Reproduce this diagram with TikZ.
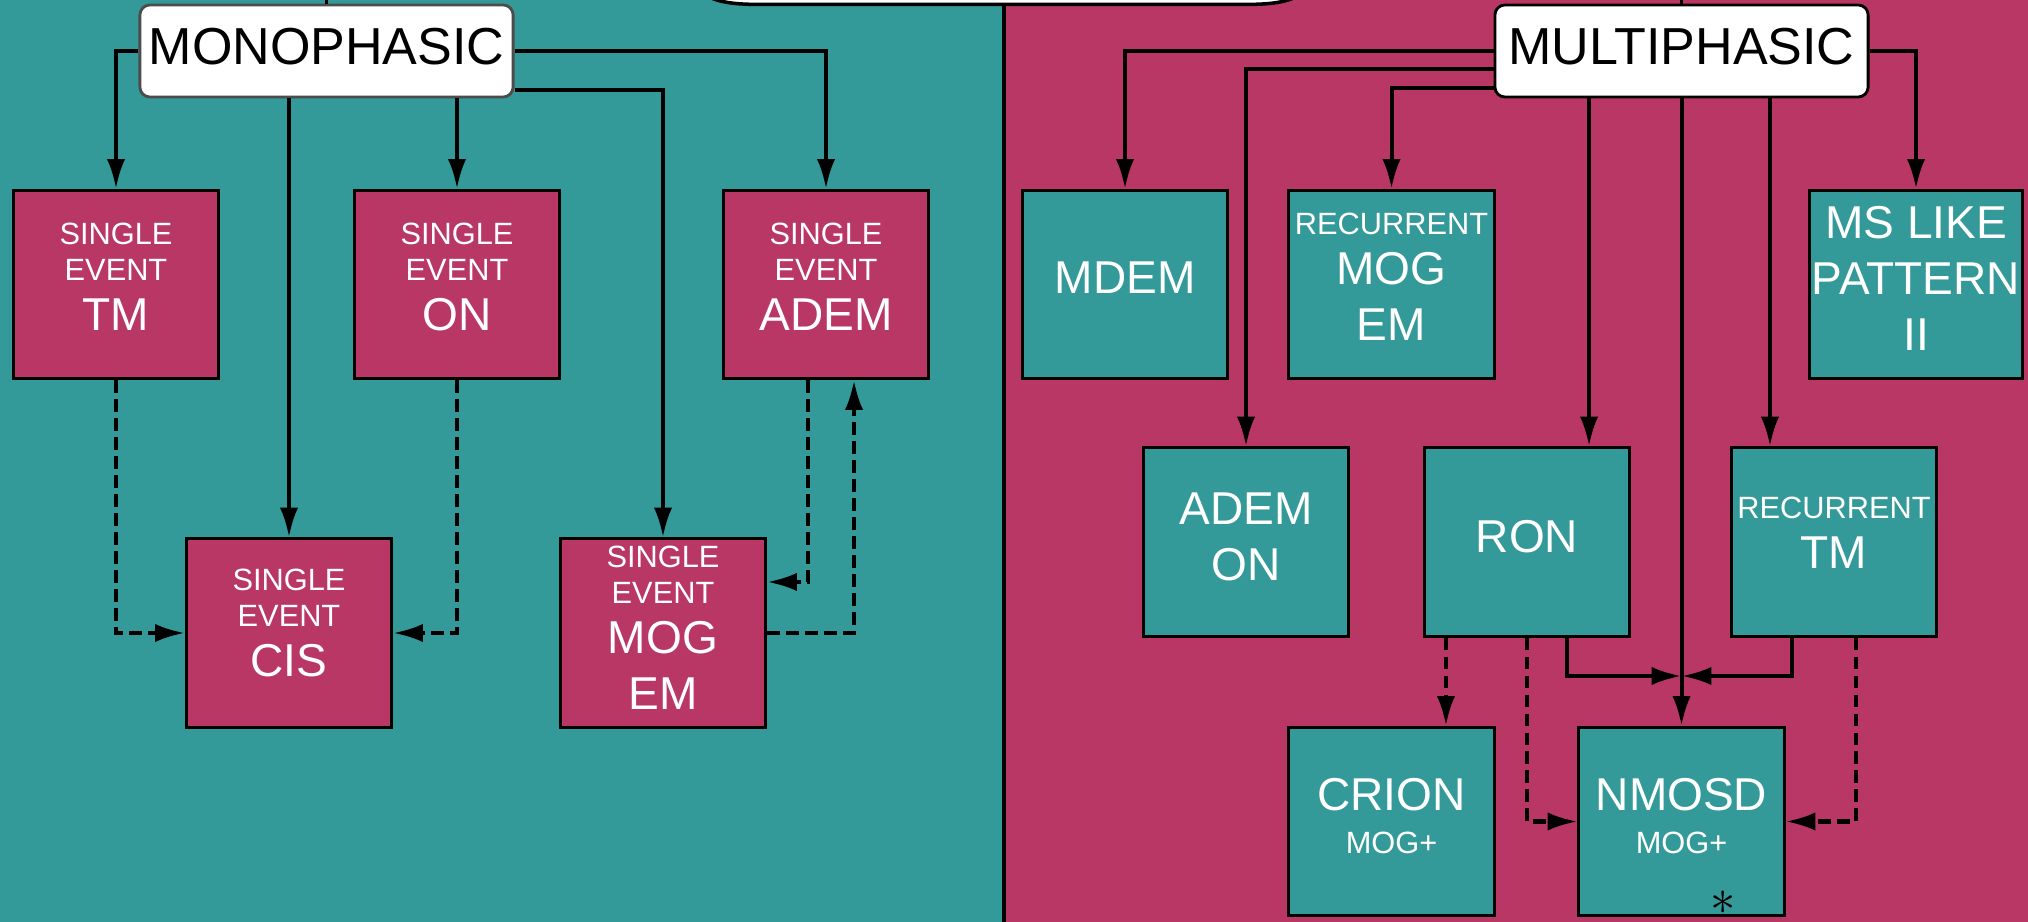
\documentclass[tikz,border=0pt]{standalone}
\usepackage{fontspec}
\setmainfont{Liberation Sans}
\usetikzlibrary{arrows.meta,calc}
\definecolor{teal1}{RGB}{51,153,153}
\definecolor{rose1}{RGB}{185,55,101}
\newcommand\sfnt{\fontsize{8.75}{10.25}\selectfont}
\newcommand\bfnt{\fontsize{13.1}{15}\selectfont}
\newcommand\lowr[1]{\rule[-#1]{0pt}{#1}}
\begin{document}
\begin{tikzpicture}[x=0.01cm,y=-0.01cm,
  box/.style={draw=black, line width=0.85pt, minimum width=2.05cm, minimum height=1.88cm, inner sep=0pt, align=center, text=white, font=\sfnt},
  monobox/.style={box, fill=rose1},
  multibox/.style={box, fill=teal1},
  headbox/.style={fill=white, rounded corners=0.1cm, minimum width=3.73cm, minimum height=0.92cm, inner sep=0pt, line width=0.8pt, font=\fontsize{14.8}{16}\selectfont},
  conn/.style={line width=1.15pt, -{Latex[length=8.5pt,width=5.2pt]}},
  dconn/.style={conn, dash pattern=on 3.6pt off 1.8pt},
]
\useasboundingbox (0,0) rectangle (2028,922);
\clip (0,0) rectangle (2028,922);
% backgrounds
\fill[teal1] (0,0) rectangle (1004,922);
\fill[rose1] (1004,0) rectangle (2028,922);
\draw[line width=0.9pt] (1004,0) -- (1004,922);
% partial top shape
\draw[fill=white, line width=1pt] (705,-5) .. controls (720,3) and (735,4.5) .. (765,4.5) -- (1240,4.5) .. controls (1270,4.5) and (1285,3) .. (1300,-5) -- cycle;

% heads
\node[headbox, draw=black!70] (MONO) at (326.5,51) {MONOPHASIC\lowr{0.1cm}};
\node[headbox, draw=black] (MULTI) at (1681.5,51) {MULTIPHASIC\lowr{0.1cm}};
\coordinate (t1) at (326.5,0);
\coordinate (t2) at (1681.5,0);
\draw[line width=1pt] (t1) -- (MONO.north);
\draw[line width=1pt] (t2) -- (MULTI.north);

% monophasic boxes
\node[monobox] (TM) at (116,284.5) {SINGLE\\EVENT\\[4pt]{\bfnt TM}\lowr{0.16cm}};
\node[monobox] (ON) at (457,284.5) {SINGLE\\EVENT\\[4pt]{\bfnt ON}\lowr{0.16cm}};
\node[monobox] (ADEM) at (826,284.5) {SINGLE\\EVENT\\[4pt]{\bfnt ADEM}\lowr{0.16cm}};
\node[monobox] (CIS) at (289,633) {SINGLE\\EVENT\\[4pt]{\bfnt CIS}\lowr{0.21cm}};
\node[monobox] (MOGEM) at (663,633) {SINGLE\\EVENT\\[4pt]{\bfnt MOG}\\[5.7pt]{\bfnt EM}\lowr{0.1cm}};

% multiphasic boxes
\node[multibox] (MDEM) at (1125,284.5) {{\bfnt MDEM}\lowr{0.13cm}};
\node[multibox] (RMOG) at (1391.5,284.5) {RECURRENT\\[4pt]{\bfnt MOG}\\[5.7pt]{\bfnt EM}\lowr{0.15cm}};
\node[multibox, minimum width=2.12cm] (MSL) at (1916,284.5) {{\bfnt MS LIKE}\\[5.7pt]{\bfnt PATTERN}\\[5.7pt]{\bfnt II}\lowr{0.12cm}};
\node[multibox] (ADEMON) at (1246,542) {{\bfnt ADEM}\\[5.7pt]{\bfnt ON}\lowr{0.1cm}};
\node[multibox] (RON) at (1527,542) {{\bfnt RON}\lowr{0.12cm}};
\node[multibox] (RTM) at (1834,542) {RECURRENT\\[4pt]{\bfnt TM}\lowr{0.19cm}};
\node[multibox] (CRION) at (1391.5,821.5) {{\bfnt CRION}\\[2pt]MOG+\lowr{0.12cm}};
\node[multibox] (NMOSD) at (1681.5,821.5) {{\bfnt NMOSD}\\[2pt]MOG+\lowr{0.12cm}};
\node[font=\fontsize{14}{16}\selectfont, inner sep=0pt, text=black] (ast) at (1723,903) {$\ast$};

% monophasic connectors
\draw[conn] (MONO.west) -| (TM.north);
\draw[conn] (CIS.north |- MONO.south) -- (CIS.north);
\draw[conn] (ON.north |- MONO.south) -- (ON.north);
\draw[conn] (MONO.east) -| (ADEM.north);
\draw[conn] ([yshift=0.08cm]MONO.south east) -| (MOGEM.north);
\draw[dconn] (TM.south) |- (CIS.west);
\draw[dconn] (ON.south) |- (CIS.east);
\draw[dconn] ([xshift=-0.18cm]ADEM.south) |- ([yshift=0.51cm]MOGEM.east);
\draw[dconn] (MOGEM.east) -| ([xshift=0.28cm]ADEM.south);

% multiphasic connectors
\draw[conn] (MULTI.west) -| (MDEM.north);
\draw[conn] ([yshift=-0.18cm]MULTI.west) -| (ADEMON.north);
\draw[conn] ([yshift=-0.37cm]MULTI.west) -| (RMOG.north);
\draw[conn] (MULTI.east) -| (MSL.north);
\coordinate (RONin) at ([xshift=0.62cm]RON.north);
\draw[conn] (RONin |- MULTI.south) -- (RONin);
\draw[conn] (MULTI.south) -- (NMOSD.north);
\coordinate (RTMin) at ([xshift=-0.64cm]RTM.north);
\draw[conn] (RTMin |- MULTI.south) -- (RTMin);
\coordinate (J) at (1681.5,676);
\draw[conn] ([xshift=0.4cm]RON.south) |- (J);
\draw[conn] ([xshift=-0.42cm]RTM.south) |- (J);
\coordinate (CRin) at ([xshift=-0.81cm]RON.south);
\draw[dconn] (CRin) -- (CRin |- CRION.north);
\draw[dconn] (RON.south) |- (NMOSD.west);
\draw[dconn] ([xshift=0.22cm]RTM.south) |- (NMOSD.east);
\end{tikzpicture}
\end{document}
